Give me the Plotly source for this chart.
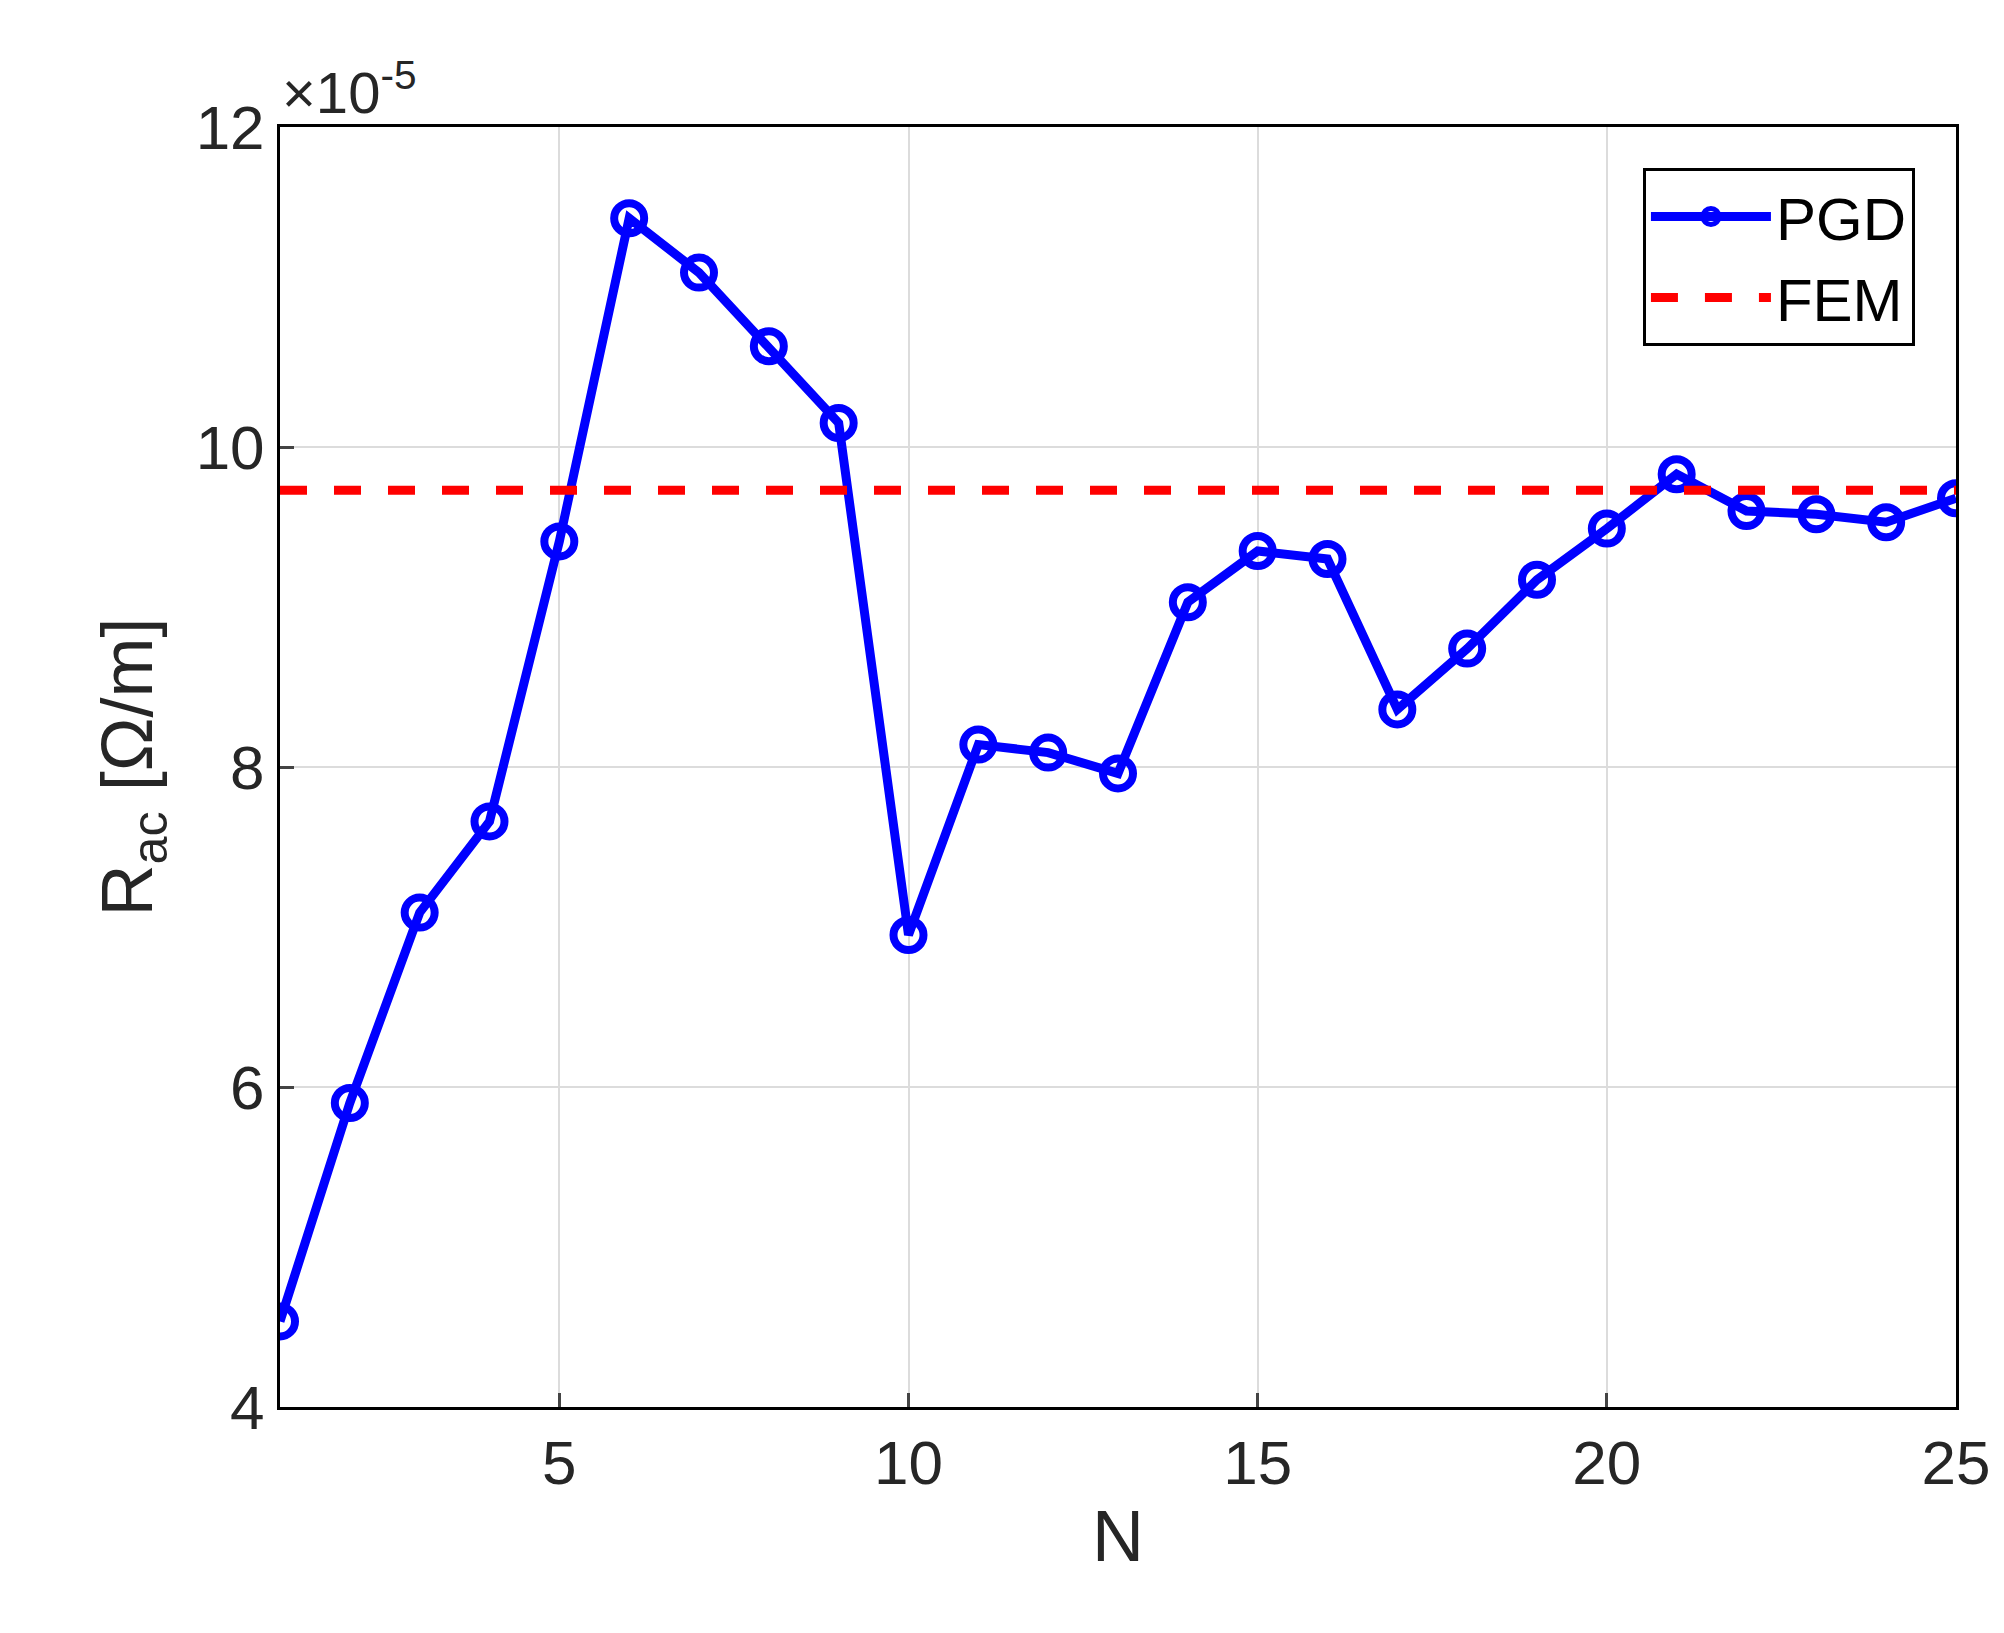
import plotly.graph_objects as go

N = list(range(1, 26))
pgd = [4.535, 5.90, 7.09, 7.66, 9.41, 11.43, 11.09, 10.63, 10.15, 6.95, 8.14, 8.09, 7.96,
       9.03, 9.35, 9.30, 8.36, 8.74, 9.17, 9.49, 9.83, 9.60, 9.58, 9.53, 9.68]
fem = 9.73
xticks = [5, 10, 15, 20, 25]
yticks = [4, 6, 8, 10, 12]

F = "Liberation Sans, Arial, sans-serif"
fig = go.Figure()
fig.add_trace(go.Scatter(x=N, y=pgd, mode="lines+markers", name="PGD",
                         line=dict(color="#0000FF", width=9),
                         marker=dict(symbol="circle-open", size=30, color="#0000FF", line=dict(width=8))))
fig.add_trace(go.Scatter(x=[1, 25], y=[fem, fem], mode="lines", name="FEM",
                         line=dict(color="#FF0000", width=9, dash="dash")))
ax = dict(showline=True, linecolor="black", linewidth=3, mirror=True, ticks="inside",
          ticklen=14, tickwidth=3, showgrid=True, gridcolor="#dcdcdc", gridwidth=2,
          zeroline=False, tickfont=dict(size=62, color="#262626", family=F))
fig.update_xaxes(range=[1, 25], tickvals=xticks,
                 title=dict(text="N", font=dict(size=72, color="#262626", family=F), standoff=15), **ax)
fig.update_yaxes(range=[4, 12], tickvals=yticks,
                 title=dict(text="R<sub>ac</sub> [Ω/m]", font=dict(size=72, color="#262626", family=F), standoff=20), **ax)
fig.add_annotation(xref="paper", yref="paper", x=0, y=1.0, xanchor="left", yanchor="bottom",
                   text="×10<sup>-5</sup>", showarrow=False, font=dict(size=58, color="#262626", family=F))
fig.update_layout(width=2004, height=1633, plot_bgcolor="white", paper_bgcolor="white",
                  margin=dict(l=272, r=56, t=119, b=234),
                  legend=dict(x=0.9755, y=0.968, xanchor="right", yanchor="top",
                              bordercolor="black", borderwidth=3, bgcolor="white",
                              font=dict(size=60, color="black", family=F), itemwidth=120))
fig.write_html("out.html")
